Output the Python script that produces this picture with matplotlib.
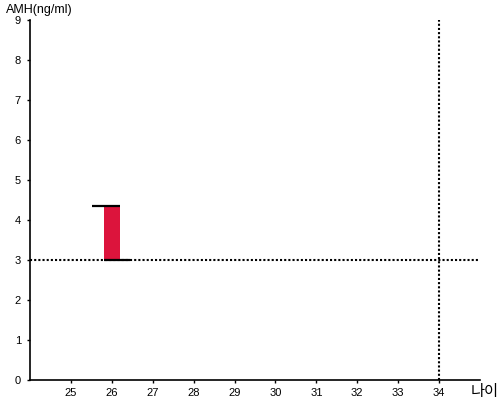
import matplotlib
matplotlib.use("Agg")
import matplotlib.pyplot as plt

plt.rcParams['font.family'] = ['Liberation Sans', 'Noto Sans CJK KR', 'DejaVu Sans']

x_ticks = [25, 26, 27, 28, 29, 30, 31, 32, 33, 34]
y_ticks = [0, 1, 2, 3, 4, 5, 6, 7, 8, 9]
bar_age = [26]
bar_low = [3.0]
bar_high = [4.35]
ref_amh = 3.0
ref_age = 34

fig = plt.figure(figsize=(5, 4), dpi=100)
ax = fig.add_axes([0.06, 0.05, 0.90, 0.90])
ax.set_xlim(24, 35)
ax.set_ylim(0, 9)

for a, lo, hi in zip(bar_age, bar_low, bar_high):
    ax.bar(a, hi - lo, bottom=lo, width=0.39, color='#dc143c', zorder=2)
    ax.hlines(hi, a - 0.48, a + 0.2, color='black', lw=1.6, zorder=3)
    ax.hlines(lo, a - 0.19, a + 0.45, color='black', lw=1.6, zorder=3)

ax.axhline(ref_amh, color='black', lw=1.5, ls=(0, (1, 1)), zorder=1)
ax.axvline(ref_age, color='black', lw=1.5, ls=(0, (1, 1)), zorder=1)

ax.set_xticks(x_ticks)
ax.set_yticks(y_ticks)
ax.tick_params(axis='x', length=2.5, width=1, labelsize=8, pad=3)
ax.tick_params(axis='y', length=2.5, width=1, labelsize=8, pad=4)
for s in ['top', 'right']:
    ax.spines[s].set_visible(False)
ax.spines['left'].set_linewidth(1.2)
ax.spines['bottom'].set_linewidth(1.2)

fig.text(0.012, 0.99, 'AMH(ng/ml)', fontsize=9, va='top', ha='left')
fig.text(0.997, 0.003, '나이', fontsize=11, va='bottom', ha='right')

fig.savefig('out.png', dpi=100)
